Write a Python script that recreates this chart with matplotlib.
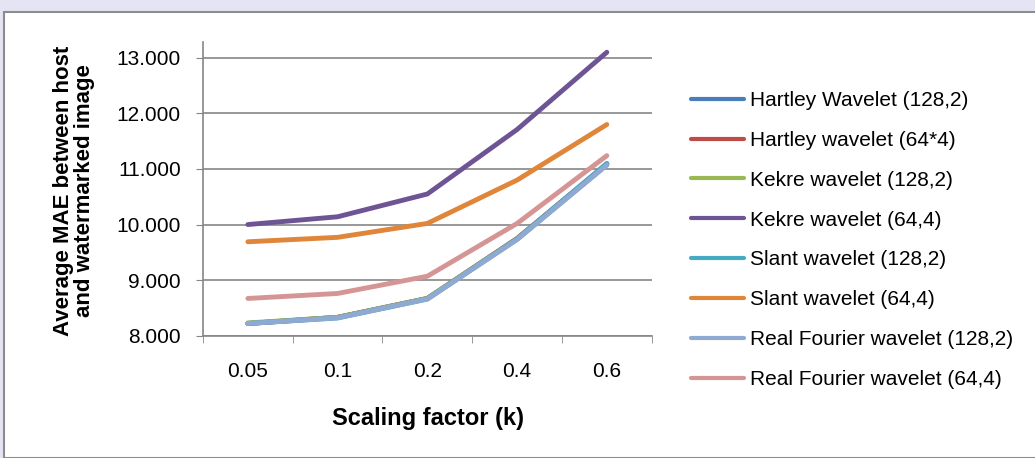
import matplotlib.pyplot as plt
from matplotlib.patches import Rectangle
import numpy as np

plt.rcParams["font.family"] = ["Liberation Sans", "DejaVu Sans"]

# categories on the x axis
k_labels = ["0.05", "0.1", "0.2", "0.4", "0.6"]

hartley_128 = [8.22, 8.33, 8.67, 9.74, 11.08]
hartley_64 = [8.22, 8.33, 8.67, 9.75, 11.09]
kekre_128 = [8.23, 8.33, 8.67, 9.74, 11.08]
kekre_64 = [10.00, 10.14, 10.55, 11.71, 13.10]
slant_128 = [8.22, 8.32, 8.66, 9.74, 11.10]
slant_64 = [9.69, 9.77, 10.02, 10.80, 11.80]
fourier_128 = [8.22, 8.32, 8.66, 9.73, 11.07]
fourier_64 = [8.67, 8.76, 9.07, 10.02, 11.24]

series = [
    ("Hartley Wavelet (128,2)", hartley_128, "#4A7EBB"),
    ("Hartley wavelet (64*4)", hartley_64, "#BE4B48"),
    ("Kekre wavelet (128,2)", kekre_128, "#98B954"),
    ("Kekre wavelet (64,4)", kekre_64, "#6E5494"),
    ("Slant wavelet (128,2)", slant_128, "#46AAC5"),
    ("Slant wavelet (64,4)", slant_64, "#E0863A"),
    ("Real Fourier wavelet (128,2)", fourier_128, "#8FAAD2"),
    ("Real Fourier wavelet (64,4)", fourier_64, "#D59594"),
]

fig = plt.figure(figsize=(10.35, 4.58), dpi=100, facecolor="#e4e4f4")
# white chart area with gray border
fig.patches.append(Rectangle((4 / 1035, 0), 1.0, 1 - 12 / 458, transform=fig.transFigure,
                             facecolor="white", edgecolor="#8c8c8c", linewidth=1.5, zorder=-1))

ax = fig.add_axes([203 / 1035, 1 - 335.7 / 458, (651.7 - 203) / 1035, (335.7 - 41.7) / 458])
ax.set_facecolor("none")

x = np.arange(len(k_labels))
handles = []
for name, vals, col in series:
    h, = ax.plot(x, vals, color=col, lw=3.5, solid_capstyle="round", solid_joinstyle="round",
                 label=name, zorder=3)
    handles.append(h)

ax.set_xlim(-0.5, len(k_labels) - 0.5)
ax.set_ylim(8.0, 13.29)
yt = np.arange(8, 13.5, 1.0)
ax.set_yticks(yt)
ax.set_yticklabels(["%.3f" % v for v in yt], fontsize=15)
ax.set_xticks(x)
ax.set_xticklabels(k_labels, fontsize=15)
ax.set_xticks(np.arange(-0.5, len(k_labels), 1.0), minor=True)
ax.tick_params(axis="x", which="major", length=0, pad=19)
ax.tick_params(axis="x", which="minor", length=5, color="#868686", direction="out")
ax.tick_params(axis="y", length=5, color="#868686", direction="out", pad=11)
ax.grid(axis="y", color="#868686", linewidth=1.2, zorder=1)
for s in ["top", "right"]:
    ax.spines[s].set_visible(False)
for s in ["left", "bottom"]:
    ax.spines[s].set_color("#868686")
    ax.spines[s].set_linewidth(1.2)

fig.text(428 / 1035, 1 - 418 / 458, "Scaling factor (k)", ha="center", va="center",
         fontsize=17, fontweight="bold")
fig.text(74 / 1035, 1 - 191 / 458, "Average MAE between host\nand watermarked image",
         ha="center", va="center", rotation=90, fontsize=16, fontweight="bold",
         linespacing=1.05)

leg = fig.legend(handles=handles, loc="upper left", bbox_to_anchor=(691 / 1035, 1 - 91 / 458),
                 frameon=False, fontsize=15, handlelength=2.55, handletextpad=0.3,
                 labelspacing=1.0, borderpad=0, borderaxespad=0)
for line in leg.get_lines():
    line.set_linewidth(3)

fig.savefig("out.png", dpi=100, facecolor=fig.get_facecolor())
